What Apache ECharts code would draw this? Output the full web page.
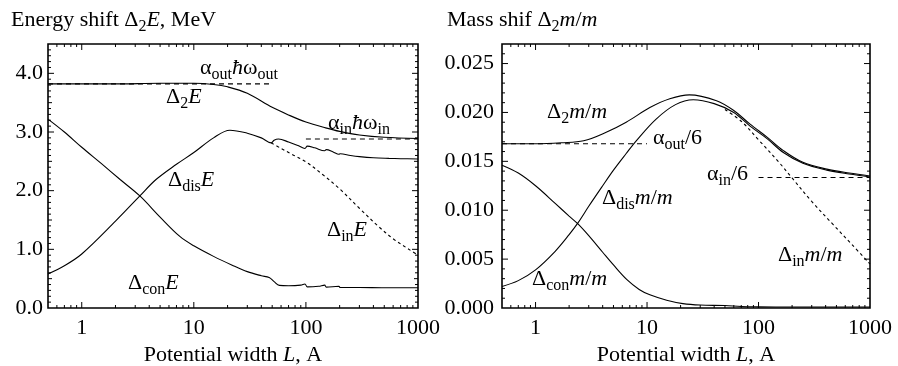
<!DOCTYPE html>
<html lang="en">
<head>
    <meta charset="UTF-8">
    <title>Energy and mass shift</title>
    <script src="https://cdn.jsdelivr.net/npm/echarts@6.0.0/dist/echarts.min.js"></script>
    <style>
        body { margin: 0; background: #fff; }
        #main { width: 898px; height: 366px; }
    </style>
</head>
<body>
<div id="main"></div>
<script>
// ---- left panel: energy shift, MeV ----
var d2E_L = [0.5, 2, 5, 10, 15, 20, 30, 50, 70, 100, 150, 200, 300, 500, 1000];
var d2E_v = [3.82, 3.82, 3.83, 3.83, 3.81, 3.77, 3.66, 3.42, 3.29, 3.17, 3.07, 3.01, 2.95, 2.91, 2.89];

var disE_L = [0.5, 0.7, 1, 2, 3.3, 4.6, 7, 10, 15, 21, 30, 40, 49, 52, 57, 70, 85, 98, 103, 120, 147, 152, 175, 197, 202, 250, 300, 400, 550, 700, 1000];
var disE_v = [0.58, 0.72, 0.92, 1.48, 1.91, 2.19, 2.45, 2.65, 2.9, 3.03, 2.98, 2.9, 2.815, 2.86, 2.88, 2.83, 2.77, 2.72, 2.76, 2.73, 2.68, 2.70, 2.66, 2.62, 2.63, 2.6, 2.58, 2.56, 2.55, 2.545, 2.54];

var inE_L = [49, 60, 75, 100, 140, 200, 300, 450, 600, 800, 1000];
var inE_v = [2.815, 2.72, 2.62, 2.49, 2.28, 2.03, 1.7, 1.38, 1.18, 1.02, 0.9];

var conE_L = [0.5, 0.7, 1, 1.5, 2.2, 3.3, 5, 7.5, 10, 15, 22, 30, 40, 47, 52, 58, 70, 90, 98, 103, 130, 147, 152, 197, 202, 300, 500, 1000];
var conE_v = [3.22, 3.0, 2.74, 2.46, 2.19, 1.91, 1.55, 1.22, 1.06, 0.88, 0.73, 0.62, 0.55, 0.52, 0.45, 0.385, 0.38, 0.39, 0.41, 0.36, 0.37, 0.39, 0.355, 0.37, 0.35, 0.35, 0.345, 0.345];

var aOutE_L = [0.5, 50],  aOutE_v = [3.82, 3.82];
var aInE_L = [100, 1000], aInE_v = [2.88, 2.88];

// ---- right panel: mass shift ----
var d2m_L = [0.5, 1, 1.7, 2.7, 4.35, 6.5, 10.6, 16, 24, 42, 60, 84, 120, 167, 250, 410, 650, 1000];
var d2m_v = [0.0168, 0.0168, 0.0169, 0.0171, 0.0180, 0.0190, 0.0205, 0.0214, 0.0218, 0.0212, 0.0202, 0.0188, 0.01745, 0.0161, 0.0149, 0.0142, 0.0138, 0.0135];

var dism_L = [0.5, 0.7, 1, 1.5, 2, 2.4, 3, 4, 5, 6.5, 8, 12, 18, 26, 40, 60, 84, 120, 167, 250, 410, 650, 1000];
var dism_v = [0.0022, 0.0028, 0.0039, 0.0058, 0.0075, 0.0087, 0.0104, 0.0125, 0.0141, 0.0158, 0.0171, 0.0193, 0.0208, 0.0213, 0.0209, 0.0200, 0.0186, 0.0173, 0.0159, 0.0148, 0.0141, 0.0137, 0.0134];

var inm_L = [50, 70, 100, 150, 200, 300, 470, 700, 1000];
var inm_v = [0.0203, 0.0191, 0.0172, 0.0150, 0.0133, 0.0109, 0.0085, 0.0064, 0.0045];

var conm_L = [0.5, 0.7, 1, 1.5, 2, 2.4, 3, 4, 5, 6.6, 8.5, 10.6, 15, 21, 30, 50, 70, 100, 200, 1000];
var conm_v = [0.0146, 0.0138, 0.0125, 0.0107, 0.0094, 0.0086, 0.0074, 0.0057, 0.0044, 0.0029, 0.0019, 0.00135, 0.0008, 0.00045, 0.0003, 0.00025, 0.00015, 0.00012, 0.0001, 0.0001];

var aOutm_L = [0.5, 10],  aOutm_v = [0.0168, 0.0168];
var aInm_L = [100, 1000], aInm_v = [0.01335, 0.01335];

// axis ticks
var xMajor = [1, 10, 100];
var xMinor = [];
[0.1, 1, 10, 100].forEach(function (d) {
    for (var m = 2; m <= 9; m++) {
        var v = Math.round(m * d * 10) / 10;
        if (v > 0.5 && v < 1000) xMinor.push(v);
    }
});
var yMajorE = [1, 2, 3, 4];
var yHalfE = [0.5, 1.5, 2.5, 3.5];
var yMinorE = [];
for (var i = 1; i < 45; i++) { if (i % 5) yMinorE.push(i / 10); }
var yMajorM = [0.005, 0.01, 0.015, 0.02, 0.025];
var yMinorM = [];
for (var j = 1; j <= 26; j++) { if (j % 5) yMinorM.push(j / 1000); }

var FONT = 'Liberation Serif';
var rich = {
    r: { fontFamily: FONT, fontSize: 22, lineHeight: 25, verticalAlign: 'top', color: '#000' },
    i: { fontFamily: FONT, fontSize: 22, lineHeight: 25, verticalAlign: 'top', fontStyle: 'italic', color: '#000' },
    s: { fontFamily: FONT, fontSize: 16, lineHeight: 11, verticalAlign: 'bottom', color: '#000' }
};

var ext = [
    { xMin: 0.5, xMax: 1000, yMin: 0, yMax: 4.5 },
    { xMin: 0.5, xMax: 1000, yMin: 0, yMax: 0.027 }
];

function zip(a, b) {
    return a.map(function (x, k) { return [x, b[k]]; });
}

function curve(g, xs, ys, dashed) {
    return {
        type: 'line', xAxisIndex: g, yAxisIndex: g,
        data: zip(xs, ys),
        showSymbol: false, smooth: dashed === 'flat' ? false : 0.35,
        silent: true, animation: false,
        lineStyle: {
            color: '#000', width: 1.1,
            type: dashed ? (dashed === 'flat' ? [5, 4] : [3, 3]) : 'solid'
        },
        z: 3
    };
}

// ticks drawn inward on all four sides of the frame
function ticks(g, dir, values, len) {
    var e = ext[g];
    return {
        type: 'custom', xAxisIndex: g, yAxisIndex: g,
        silent: true, animation: false, clip: false, z: 5,
        data: values.map(function (v) { return dir === 'x' ? [v, e.yMin] : [e.xMin, v]; }),
        renderItem: function (params, api) {
            var a, b, s = { stroke: '#000', lineWidth: 1 };
            if (dir === 'x') {
                a = api.coord([api.value(0), e.yMin]);
                b = api.coord([api.value(0), e.yMax]);
                return { type: 'group', children: [
                    { type: 'line', shape: { x1: a[0], y1: a[1], x2: a[0], y2: a[1] - len }, style: s },
                    { type: 'line', shape: { x1: b[0], y1: b[1], x2: b[0], y2: b[1] + len }, style: s }
                ] };
            }
            a = api.coord([e.xMin, api.value(1)]);
            b = api.coord([e.xMax, api.value(1)]);
            return { type: 'group', children: [
                { type: 'line', shape: { x1: a[0], y1: a[1], x2: a[0] + len, y2: a[1] }, style: s },
                { type: 'line', shape: { x1: b[0], y1: b[1], x2: b[0] - len, y2: b[1] }, style: s }
            ] };
        }
    };
}

function xAxis(g) {
    return {
        type: 'log', logBase: 10, gridIndex: g, min: 0.5, max: 1000,
        axisLine: { show: false }, axisTick: { show: false }, splitLine: { show: false },
        axisLabel: {
            margin: 9, color: '#000', fontFamily: FONT, fontSize: 22, showMinLabel: false,
            formatter: function (v) { return v >= 1 ? String(Math.round(v)) : ''; }
        },
        name: '{r|Potential width }{i|L}{r|, A}',
        nameLocation: 'middle', nameGap: 24,
        nameTextStyle: { rich: rich }
    };
}

function yAxis(g, max, digits, margin) {
    return {
        type: 'value', gridIndex: g, min: 0, max: max, interval: digits === 1 ? 1 : 0.005,
        axisLine: { show: false }, axisTick: { show: false }, splitLine: { show: false },
        axisLabel: {
            margin: margin, color: '#000', fontFamily: FONT, fontSize: 22,
            formatter: function (v) { return v > max - 1e-9 ? '' : v.toFixed(digits); }
        }
    };
}

function label(x, y, text) {
    return { type: 'text', x: x, y: y, z: 10, silent: true,
        style: { text: text, rich: rich, verticalAlign: 'middle', align: 'left' } };
}

var chart = echarts.init(document.getElementById('main'), null, { renderer: 'canvas' });

chart.setOption({
    backgroundColor: '#fff',
    animation: false,
    grid: [
        { left: 48, right: 480, top: 44, bottom: 58, outerBoundsMode: 'none', containLabel: false,
          show: true, borderColor: '#000', borderWidth: 1.6 },
        { left: 502, right: 28, top: 44, bottom: 58, outerBoundsMode: 'none', containLabel: false,
          show: true, borderColor: '#000', borderWidth: 1.6 }
    ],
    xAxis: [xAxis(0), xAxis(1)],
    yAxis: [yAxis(0, 4.5, 1, 5), yAxis(1, 0.027, 3, 8)],
    series: [
        curve(0, d2E_L, d2E_v),
        curve(0, disE_L, disE_v),
        curve(0, conE_L, conE_v),
        curve(0, inE_L, inE_v, true),
        curve(0, aOutE_L, aOutE_v, 'flat'),
        curve(0, aInE_L, aInE_v, 'flat'),
        curve(1, d2m_L, d2m_v),
        curve(1, dism_L, dism_v),
        curve(1, conm_L, conm_v),
        curve(1, inm_L, inm_v, true),
        curve(1, aOutm_L, aOutm_v, 'flat'),
        curve(1, aInm_L, aInm_v, 'flat'),
        ticks(0, 'x', xMajor, 6), ticks(0, 'x', xMinor, 3),
        ticks(0, 'y', yMajorE, 6), ticks(0, 'y', yHalfE, 4), ticks(0, 'y', yMinorE, 3),
        ticks(1, 'x', xMajor, 6), ticks(1, 'x', xMinor, 3),
        ticks(1, 'y', yMajorM, 6), ticks(1, 'y', yMinorM, 3)
    ],
    graphic: [
        label(11, 22, '{r|Energy shift Δ}{s|2}{i|E}{r|, MeV}'),
        label(200, 70, '{r|α}{s|out}{i|ħ}{r|ω}{s|out}'),
        label(166, 99, '{r|Δ}{s|2}{i|E}'),
        label(328, 125, '{r|α}{s|in}{i|ħ}{r|ω}{s|in}'),
        label(168, 182, '{r|Δ}{s|dis}{i|E}'),
        label(327, 232, '{r|Δ}{s|in}{i|E}'),
        label(128, 285, '{r|Δ}{s|con}{i|E}'),
        label(447, 22, '{r|Mass shif Δ}{s|2}{i|m}{r|/}{i|m}'),
        label(547, 114, '{r|Δ}{s|2}{i|m}{r|/}{i|m}'),
        label(653, 140, '{r|α}{s|out}{r|/6}'),
        label(707, 176, '{r|α}{s|in}{r|/6}'),
        label(602, 200, '{r|Δ}{s|dis}{i|m}{r|/}{i|m}'),
        label(778, 257, '{r|Δ}{s|in}{i|m}{r|/}{i|m}'),
        label(532, 281, '{r|Δ}{s|con}{i|m}{r|/}{i|m}')
    ]
});
</script>
</body>
</html>
